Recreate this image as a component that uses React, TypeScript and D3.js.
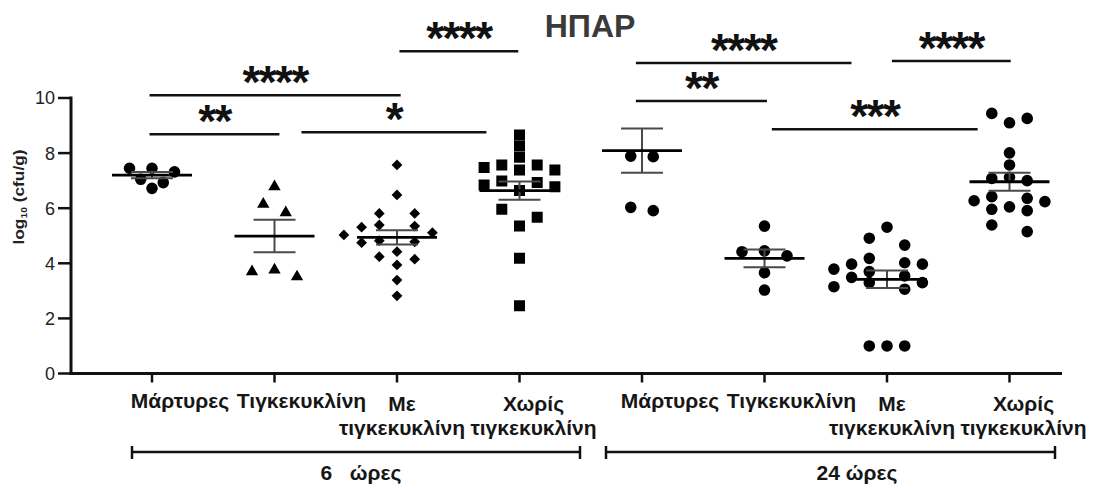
import React from "react";
import * as d3 from "d3";

const W = 1093;
const H = 488;

// Group labels along the x axis (two time points x four treatments)
const categoryLabels = ["Μάρτυρες", "Τιγκεκυκλίνη", "Με τιγκεκυκλίνη", "Χωρίς τιγκεκυκλίνη"];
const timepointLabels = ["6   ώρες", "24 ώρες"];
const yTicks = [0, 2, 4, 6, 8, 10];

// log10 cfu/g per animal
const control6h = [7.45, 7.45, 7.32, 7.05, 6.93, 6.72];
const tigecycline6h = [6.78, 6.15, 5.84, 3.76, 3.7, 3.51];
const withTig6h = [7.57, 6.48, 5.81, 5.81, 5.39, 5.35, 5.31, 5.11, 5.03, 4.82, 4.78, 4.75, 4.42, 4.24, 4.15, 3.94, 3.39, 2.82];
const withoutTig6h = [8.66, 8.26, 7.85, 7.57, 7.57, 7.48, 7.39, 7.39, 6.99, 6.93, 6.84, 6.78, 6.64, 5.96, 5.67, 5.35, 4.18, 2.46];
const control24h = [7.89, 7.87, 6.03, 5.91];
const tigecycline24h = [5.35, 4.45, 4.42, 4.27, 3.66, 3.03];
const withTig24h = [5.31, 4.91, 4.66, 4.18, 4.02, 3.97, 3.97, 3.79, 3.7, 3.54, 3.49, 3.3, 3.3, 3.15, 3.06, 1.0, 1.0, 1.0];
const withoutTig24h = [9.44, 9.26, 9.1, 8.01, 7.57, 7.12, 7.08, 7.0, 6.42, 6.36, 6.27, 6.24, 6.05, 5.96, 5.91, 5.39, 5.15];

const groupValues = [control6h, tigecycline6h, withTig6h, withoutTig6h, control24h, tigecycline24h, withTig24h, withoutTig24h];
const groupSymbols = ["circle", "triangle", "diamond", "square", "circle", "circle", "circle", "circle"];
const groupMeans = [7.2, 4.99, 4.94, 6.64, 8.09, 4.18, 3.42, 6.96];
const groupSems = [0.11, 0.59, 0.26, 0.33, 0.8, 0.32, 0.32, 0.33];

// Pairwise comparisons: span in category positions, bar height in y units, label
const sigFrom = [2.02, -0.02, -0.02, 1.22, 3.95, 3.95, 5.06, 6.04];
const sigTo = [2.99, 2.03, 1.04, 2.73, 5.71, 5.02, 6.74, 7.01];
const sigLevel = [11.7, 10.1, 8.68, 8.76, 11.27, 9.89, 8.87, 11.34];
const sigLabel = ["****", "****", "**", "*", "****", "**", "***", "****"];

const FONT = "'Liberation Sans', Arial, Helvetica, sans-serif";

const plotLeft = 71;
const plotRight = 1062;
const plotTop = 98;
const plotBottom = 373.5;

// horizontal nudge of each treatment label relative to its tick
const labelShift = [28, 27, 5, 14];

const y = d3.scaleLinear().domain([0, 10]).range([plotBottom, plotTop]);
const x = d3
  .scalePoint<number>()
  .domain(d3.range(8))
  .range([152, 1009.5]);
const xPos = (p: number) => (x(0) as number) + p * x.step();

const symbolPath = (kind: string) => {
  const gen = d3.symbol();
  if (kind === "circle") return gen.type(d3.symbolCircle).size(106)()!;
  if (kind === "triangle") return gen.type(d3.symbolTriangle).size(66)()!;
  if (kind === "square") return gen.type(d3.symbolSquare).size(121)()!;
  return gen.type(d3.symbolSquare).size(58)()!; // rotated 45deg below => diamond
};

// Scatter-dot layout: bin points into rows, spread each row over a column grid
function spread(values: number[], small: boolean) {
  const step = small ? 22.5 : 17.7;
  const minDist = 11;
  const pts = values
    .map((v) => ({ v, py: y(v), dx: 0 }))
    .sort((a, b) => a.py - b.py);
  const rows: (typeof pts)[] = [];
  for (const p of pts) {
    const row = rows[rows.length - 1];
    if (!row || p.py - row[0].py >= 9) rows.push([p]);
    else row.push(p);
  }
  const placed: { dx: number; py: number }[] = [];
  for (const row of rows) {
    const odd = row.length % 2 === 1;
    const order: number[] = [];
    if (odd) order.push(0);
    for (let k = 1; k < 12; k++) {
      const base = odd || !small ? k : k - 0.5;
      order.push(-base, base);
    }
    const used = new Set<number>();
    for (const p of row) {
      for (const slot of order) {
        if (used.has(slot)) continue;
        const dx = slot * step;
        const hit = placed.some((q) => Math.hypot(q.dx - dx, q.py - p.py) < minDist);
        if (!hit) {
          used.add(slot);
          p.dx = dx;
          placed.push({ dx, py: p.py });
          break;
        }
      }
    }
  }
  return pts;
}

export default function App() {
  const meanHalf = 40;
  const capHalf = 21;
  const ink = "#161616";
  const labelSize = 21;

  return (
    <svg
      width={W}
      height={H}
      viewBox={`0 0 ${W} ${H}`}
      style={{ position: "absolute", left: 0, top: 0, background: "#fff" }}
      fontFamily={FONT}
    >
      <rect width={W} height={H} fill="#fff" />

      {/* Title */}
      <text x={590} y={37} textAnchor="middle" fontSize={32} fontWeight="bold" fill="#3a3a3a">
        ΗΠΑΡ
      </text>

      {/* Y axis */}
      <line x1={plotLeft} x2={plotLeft} y1={plotTop - 1.5} y2={plotBottom + 1.5} stroke="#111" strokeWidth={3} />
      {yTicks.map((t) => (
        <g key={t}>
          <line x1={plotLeft - 13} x2={plotLeft} y1={y(t)} y2={y(t)} stroke="#111" strokeWidth={2.5} />
          <text x={plotLeft - 16} y={y(t)} dy="0.36em" textAnchor="end" fontSize={18} fill="#222">
            {t}
          </text>
        </g>
      ))}
      <text
        transform={`translate(24, 197) rotate(-90)`}
        textAnchor="middle"
        fontSize={15}
        fontWeight="bold"
        fill="#222"
        textLength={95}
        lengthAdjust="spacingAndGlyphs"
      >
        log
        <tspan fontSize={9} dy={3}>
          10
        </tspan>
        <tspan dy={-3}> (cfu/g)</tspan>
      </text>

      {/* X axis */}
      <line x1={plotLeft - 1.5} x2={plotRight} y1={plotBottom} y2={plotBottom} stroke="#111" strokeWidth={3} />
      {groupValues.map((_, i) => (
        <line key={i} x1={x(i)} x2={x(i)} y1={plotBottom} y2={plotBottom + 9} stroke="#111" strokeWidth={2.5} />
      ))}
      {groupValues.map((_, i) => {
        const words = categoryLabels[i % 4].split(" ");
        const cx = (x(i) as number) + labelShift[i % 4];
        if (words.length === 1) {
          return (
            <text key={i} x={cx} y={408} textAnchor="middle" fontSize={labelSize} fontWeight="bold" fill={ink}>
              {words[0]}
            </text>
          );
        }
        return (
          <text key={i} textAnchor="middle" fontSize={labelSize} fontWeight="bold" fill={ink}>
            <tspan x={cx} y={411}>
              {words[0]}
            </tspan>
            <tspan x={cx} y={435}>
              {words[1]}
            </tspan>
          </text>
        );
      })}

      {/* Time point brackets */}
      {[
        [132, 580, 361],
        [606, 1055, 857],
      ].map(([a, b, tx], i) => (
        <g key={i}>
          <line x1={a} x2={b} y1={452} y2={452} stroke="#111" strokeWidth={2.5} />
          <line x1={a} x2={a} y1={446} y2={459} stroke="#111" strokeWidth={2.5} />
          <line x1={b} x2={b} y1={446} y2={459} stroke="#111" strokeWidth={2.5} />
          <text x={tx} y={480} textAnchor="middle" fontSize={labelSize} fontWeight="bold" fill={ink} style={{ whiteSpace: "pre" }}>
            {timepointLabels[i]}
          </text>
        </g>
      ))}

      {/* Data points */}
      <defs>
        <clipPath id="plot-area">
          <rect x={plotLeft} y={plotTop - 10} width={plotRight - plotLeft} height={plotBottom - plotTop + 10} />
        </clipPath>
      </defs>
      <g clipPath="url(#plot-area)">
        {groupValues.map((vals, gi) => {
          const pts = spread(vals, vals.length <= 6);
          const d = symbolPath(groupSymbols[gi]);
          const rot = groupSymbols[gi] === "diamond" ? 45 : 0;
          return (
            <g key={gi}>
              {pts.map((p, k) => (
                <path
                  key={k}
                  d={d}
                  transform={`translate(${(x(gi) as number) + p.dx}, ${p.py}) rotate(${rot})`}
                  fill="#000"
                />
              ))}
            </g>
          );
        })}
      </g>

      {/* Mean ± SEM */}
      {groupMeans.map((m, gi) => {
        const cx = x(gi) as number;
        const hi = y(m + groupSems[gi]);
        const lo = y(m - groupSems[gi]);
        return (
          <g key={gi}>
            <line x1={cx} x2={cx} y1={hi} y2={lo} stroke="#4a4a4a" strokeWidth={2} />
            <line x1={cx - capHalf} x2={cx + capHalf} y1={hi} y2={hi} stroke="#4a4a4a" strokeWidth={2} />
            <line x1={cx - capHalf} x2={cx + capHalf} y1={lo} y2={lo} stroke="#4a4a4a" strokeWidth={2} />
            <line x1={cx - meanHalf} x2={cx + meanHalf} y1={y(m)} y2={y(m)} stroke="#000" strokeWidth={2.8} />
          </g>
        );
      })}

      {/* Significance bars */}
      {sigLabel.map((lab, i) => {
        const x1 = xPos(sigFrom[i]);
        const x2 = xPos(sigTo[i]);
        const ly = y(sigLevel[i]);
        return (
          <g key={i}>
            <line x1={x1} x2={x2} y1={ly} y2={ly} stroke="#111" strokeWidth={2.5} />
            <text
              x={(x1 + x2) / 2}
              y={ly + 3}
              textAnchor="middle"
              fontSize={46}
              fontWeight="bold"
              letterSpacing={-1.6}
              fill="#111"
            >
              {lab}
            </text>
          </g>
        );
      })}
    </svg>
  );
}
